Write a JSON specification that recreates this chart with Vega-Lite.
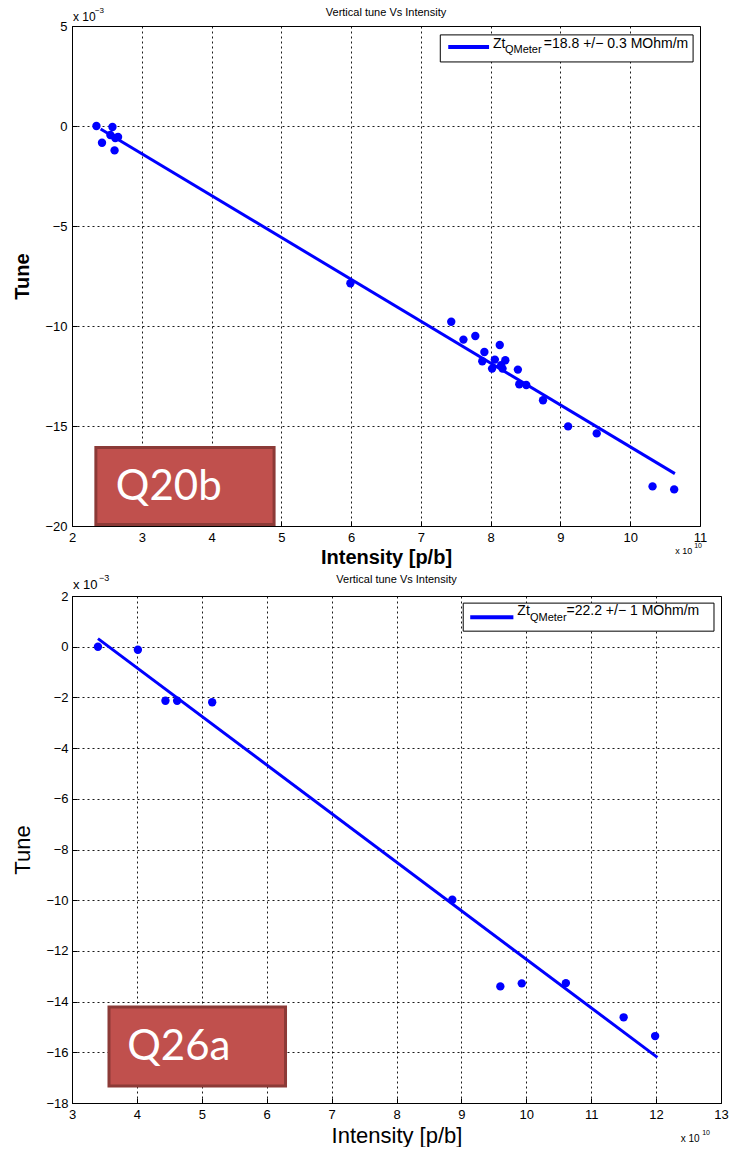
{
  "$schema": "https://vega.github.io/schema/vega-lite/v6.json",
  "padding": {"top": 6, "left": 11, "right": 0, "bottom": 0},
  "background": "#ffffff",
  "datasets": {
    "top_pts": [
      {"intensity": 2.35, "tune": 0.0},
      {"intensity": 2.58, "tune": -0.05},
      {"intensity": 2.43, "tune": -0.84},
      {"intensity": 2.55, "tune": -0.45},
      {"intensity": 2.62, "tune": -0.6},
      {"intensity": 2.66, "tune": -0.55},
      {"intensity": 2.61, "tune": -1.22},
      {"intensity": 5.99, "tune": -7.86},
      {"intensity": 7.435, "tune": -9.79},
      {"intensity": 7.61, "tune": -10.68},
      {"intensity": 7.78, "tune": -10.5},
      {"intensity": 8.13, "tune": -10.95},
      {"intensity": 7.91, "tune": -11.3},
      {"intensity": 7.88, "tune": -11.76},
      {"intensity": 8.02, "tune": -12.13},
      {"intensity": 8.06, "tune": -11.68},
      {"intensity": 8.15, "tune": -11.96},
      {"intensity": 8.21, "tune": -11.71},
      {"intensity": 8.17, "tune": -12.13},
      {"intensity": 8.39, "tune": -12.18},
      {"intensity": 8.41, "tune": -12.91},
      {"intensity": 8.51, "tune": -12.95},
      {"intensity": 8.75, "tune": -13.71},
      {"intensity": 9.11, "tune": -15.02},
      {"intensity": 9.52, "tune": -15.37},
      {"intensity": 10.32, "tune": -18.02},
      {"intensity": 10.63, "tune": -18.17}
    ],
    "top_fit": [
      {"intensity": 2.41, "tune": -0.15},
      {"intensity": 10.64, "tune": -17.38}
    ],
    "bot_pts": [
      {"intensity": 3.4, "tune": 0.0},
      {"intensity": 4.015, "tune": -0.12},
      {"intensity": 4.44, "tune": -2.13},
      {"intensity": 4.62, "tune": -2.13},
      {"intensity": 5.16, "tune": -2.19},
      {"intensity": 8.86, "tune": -9.98},
      {"intensity": 9.6, "tune": -13.4},
      {"intensity": 9.93, "tune": -13.28},
      {"intensity": 10.61, "tune": -13.27},
      {"intensity": 11.5, "tune": -14.62},
      {"intensity": 11.985, "tune": -15.36}
    ],
    "bot_fit": [
      {"intensity": 3.4, "tune": 0.32},
      {"intensity": 12.02, "tune": -16.2}
    ]
  },
  "concat": [
    {
      "width": 628,
      "height": 500,
      "title": {"text": "Vertical tune Vs Intensity", "fontSize": 11, "fontWeight": "normal", "offset": 8, "dy": 19, "color": "#000", "anchor": "middle"},
      "layer": [
        {
          "data": {"name": "top_pts"},
          "mark": {"type": "circle", "size": 64, "color": "#0000ff", "opacity": 0},
          "encoding": {
            "x": {"field": "intensity", "type": "quantitative", "scale": {"domain": [2, 11], "nice": false, "zero": false},
                  "axis": {"values": [2,3,4,5,6,7,8,9,10,11], "format": "d", "title": "Intensity [p/b]", "titleFontSize": 20, "titleFontWeight": "bold", "titlePadding": 3, "labelFontSize": 13, "labelPadding": 10, "labelFlush": false, "labelOverlap": false, "grid": true, "gridColor": "#000", "gridDash": [2, 3], "gridOpacity": 0.9, "domain": false, "ticks": true, "tickSize": -5, "tickColor": "#000"}},
            "y": {"field": "tune", "type": "quantitative", "scale": {"domain": [-20, 5], "nice": false, "zero": false},
                  "axis": {"values": [-20,-15,-10,-5,0,5], "format": "d", "title": "Tune", "titleFontSize": 20, "titleFontWeight": "bold", "titlePadding": 12, "labelFontSize": 13, "labelPadding": 10, "labelOverlap": false, "grid": true, "gridColor": "#000", "gridDash": [2, 3], "gridOpacity": 0.9, "domain": false, "ticks": true, "tickSize": -5, "tickColor": "#000"}}
          }
        },
        {
          "data": {"values": [{}]},
          "mark": {"type": "rect", "fill": "#ffffff", "stroke": "#000", "strokeWidth": 1},
          "encoding": {
            "x": {"datum": 7.278, "type": "quantitative"},
            "x2": {"datum": 10.901},
            "y": {"datum": 4.555, "type": "quantitative"},
            "y2": {"datum": 3.203}
          }
        },
        {
          "data": {"values": [{}]},
          "mark": {"type": "rect", "fill": "#c0504d", "stroke": "#8c3a37", "strokeWidth": 3},
          "encoding": {
            "x": {"datum": 2.342, "type": "quantitative"},
            "x2": {"datum": 4.896},
            "y": {"datum": -16.07, "type": "quantitative"},
            "y2": {"datum": -19.92}
          }
        },
        {
          "data": {"name": "top_fit"},
          "mark": {"type": "line", "color": "#0000ff", "strokeWidth": 3},
          "encoding": {
            "x": {"field": "intensity", "type": "quantitative"},
            "y": {"field": "tune", "type": "quantitative"}
          }
        },
        {
          "data": {"name": "top_pts"},
          "mark": {"type": "circle", "size": 70, "color": "#0000ff", "opacity": 1},
          "encoding": {
            "x": {"field": "intensity", "type": "quantitative"},
            "y": {"field": "tune", "type": "quantitative"}
          }
        },
        {
          "data": {"values": [{}]},
          "mark": {"type": "rule", "color": "#0000ff", "strokeWidth": 4},
          "encoding": {
            "x": {"datum": 7.392, "type": "quantitative"},
            "x2": {"datum": 7.977},
            "y": {"datum": 3.954, "type": "quantitative"}
          }
        },
        {
          "data": {"values": [{}]},
          "mark": {"type": "text", "text": "Zt", "fontSize": 14, "align": "left", "baseline": "middle", "color": "#000"},
          "encoding": {
            "x": {"datum": 8.034, "type": "quantitative"},
            "y": {"datum": 4.104, "type": "quantitative"}
          }
        },
        {
          "data": {"values": [{}]},
          "mark": {"type": "text", "text": "QMeter", "fontSize": 11, "align": "left", "baseline": "middle", "color": "#000"},
          "encoding": {
            "x": {"datum": 8.205, "type": "quantitative"},
            "y": {"datum": 3.804, "type": "quantitative"}
          }
        },
        {
          "data": {"values": [{}]},
          "mark": {"type": "text", "text": "=18.8 +/− 0.3 MOhm/m", "fontSize": 14, "align": "left", "baseline": "middle", "color": "#000"},
          "encoding": {
            "x": {"datum": 8.762, "type": "quantitative"},
            "y": {"datum": 4.104, "type": "quantitative"}
          }
        },
        {
          "data": {"values": [{}]},
          "mark": {"type": "text", "text": "Q20b", "font": "Lato", "fontSize": 42, "align": "left", "baseline": "middle", "color": "#ffffff"},
          "encoding": {
            "x": {"datum": 2.628, "type": "quantitative"},
            "y": {"datum": -18.07, "type": "quantitative"}
          }
        },
        {
          "data": {"values": [{}]},
          "mark": {"type": "text", "text": "x 10", "fontSize": 12, "align": "left", "baseline": "middle", "color": "#000"},
          "encoding": {
            "x": {"datum": 2.014, "type": "quantitative"},
            "y": {"datum": 5.455, "type": "quantitative"}
          }
        },
        {
          "data": {"values": [{}]},
          "mark": {"type": "text", "text": "−3", "fontSize": 8, "align": "left", "baseline": "middle", "color": "#000"},
          "encoding": {
            "x": {"datum": 2.328, "type": "quantitative"},
            "y": {"datum": 5.756, "type": "quantitative"}
          }
        },
        {
          "data": {"values": [{}]},
          "mark": {"type": "text", "text": "x 10", "fontSize": 9, "align": "left", "baseline": "middle", "color": "#000"},
          "encoding": {
            "x": {"datum": 10.645, "type": "quantitative"},
            "y": {"datum": -21.27, "type": "quantitative"}
          }
        },
        {
          "data": {"values": [{}]},
          "mark": {"type": "text", "text": "10", "fontSize": 7, "align": "left", "baseline": "middle", "color": "#000"},
          "encoding": {
            "x": {"datum": 10.916, "type": "quantitative"},
            "y": {"datum": -21.02, "type": "quantitative"}
          }
        }
      ]
    },
    {
      "width": 649,
      "height": 507,
      "title": {"text": "Vertical tune Vs Intensity", "fontSize": 11, "fontWeight": "normal", "offset": 11, "dy": 22, "color": "#000", "anchor": "middle"},
      "layer": [
        {
          "data": {"name": "bot_pts"},
          "mark": {"type": "circle", "size": 64, "color": "#0000ff", "opacity": 0},
          "encoding": {
            "x": {"field": "intensity", "type": "quantitative", "scale": {"domain": [3, 13], "nice": false, "zero": false},
                  "axis": {"values": [3,4,5,6,7,8,9,10,11,12,13], "format": "d", "title": "Intensity [p/b]", "titleFontSize": 22, "titleFontWeight": "normal", "titlePadding": 4, "labelFontSize": 13, "labelPadding": 10, "labelFlush": false, "labelOverlap": false, "grid": true, "gridColor": "#000", "gridDash": [2, 3], "gridOpacity": 0.9, "domain": false, "ticks": true, "tickSize": -5, "tickColor": "#000"}},
            "y": {"field": "tune", "type": "quantitative", "scale": {"domain": [-18, 2], "nice": false, "zero": false},
                  "axis": {"values": [-18,-16,-14,-12,-10,-8,-6,-4,-2,0,2], "format": "d", "title": "Tune", "titleFontSize": 22, "titleFontWeight": "normal", "titlePadding": 11, "labelFontSize": 13, "labelPadding": 9, "labelOverlap": false, "grid": true, "gridColor": "#000", "gridDash": [2, 3], "gridOpacity": 0.9, "domain": false, "ticks": true, "tickSize": -5, "tickColor": "#000"}}
          }
        },
        {
          "data": {"values": [{}]},
          "mark": {"type": "rect", "fill": "#ffffff", "stroke": "#000", "strokeWidth": 1},
          "encoding": {
            "x": {"datum": 9.028, "type": "quantitative"},
            "x2": {"datum": 12.892},
            "y": {"datum": 1.719, "type": "quantitative"},
            "y2": {"datum": 0.613}
          }
        },
        {
          "data": {"values": [{}]},
          "mark": {"type": "rect", "fill": "#c0504d", "stroke": "#8c3a37", "strokeWidth": 3},
          "encoding": {
            "x": {"datum": 3.57, "type": "quantitative"},
            "x2": {"datum": 6.29},
            "y": {"datum": -14.21, "type": "quantitative"},
            "y2": {"datum": -17.33}
          }
        },
        {
          "data": {"name": "bot_fit"},
          "mark": {"type": "line", "color": "#0000ff", "strokeWidth": 3},
          "encoding": {
            "x": {"field": "intensity", "type": "quantitative"},
            "y": {"field": "tune", "type": "quantitative"}
          }
        },
        {
          "data": {"name": "bot_pts"},
          "mark": {"type": "circle", "size": 70, "color": "#0000ff", "opacity": 1},
          "encoding": {
            "x": {"field": "intensity", "type": "quantitative"},
            "y": {"field": "tune", "type": "quantitative"}
          }
        },
        {
          "data": {"values": [{}]},
          "mark": {"type": "rule", "color": "#0000ff", "strokeWidth": 4},
          "encoding": {
            "x": {"datum": 9.136, "type": "quantitative"},
            "x2": {"datum": 9.801},
            "y": {"datum": 1.166, "type": "quantitative"}
          }
        },
        {
          "data": {"values": [{}]},
          "mark": {"type": "text", "text": "Zt", "fontSize": 14, "align": "left", "baseline": "middle", "color": "#000"},
          "encoding": {
            "x": {"datum": 9.862, "type": "quantitative"},
            "y": {"datum": 1.403, "type": "quantitative"}
          }
        },
        {
          "data": {"values": [{}]},
          "mark": {"type": "text", "text": "QMeter", "fontSize": 11, "align": "left", "baseline": "middle", "color": "#000"},
          "encoding": {
            "x": {"datum": 10.056, "type": "quantitative"},
            "y": {"datum": 1.126, "type": "quantitative"}
          }
        },
        {
          "data": {"values": [{}]},
          "mark": {"type": "text", "text": "=22.2 +/− 1 MOhm/m", "fontSize": 14, "align": "left", "baseline": "middle", "color": "#000"},
          "encoding": {
            "x": {"datum": 10.62, "type": "quantitative"},
            "y": {"datum": 1.403, "type": "quantitative"}
          }
        },
        {
          "data": {"values": [{}]},
          "mark": {"type": "text", "text": "Q26a", "font": "Lato", "fontSize": 42, "align": "left", "baseline": "middle", "color": "#ffffff"},
          "encoding": {
            "x": {"datum": 3.85, "type": "quantitative"},
            "y": {"datum": -15.79, "type": "quantitative"}
          }
        },
        {
          "data": {"values": [{}]},
          "mark": {"type": "text", "text": "x 10", "fontSize": 13, "align": "left", "baseline": "middle", "color": "#000"},
          "encoding": {
            "x": {"datum": 3.015, "type": "quantitative"},
            "y": {"datum": 2.431, "type": "quantitative"}
          }
        },
        {
          "data": {"values": [{}]},
          "mark": {"type": "text", "text": "−3", "fontSize": 9, "align": "left", "baseline": "middle", "color": "#000"},
          "encoding": {
            "x": {"datum": 3.417, "type": "quantitative"},
            "y": {"datum": 2.708, "type": "quantitative"}
          }
        },
        {
          "data": {"values": [{}]},
          "mark": {"type": "text", "text": "x 10", "fontSize": 10, "align": "left", "baseline": "middle", "color": "#000"},
          "encoding": {
            "x": {"datum": 12.38, "type": "quantitative"},
            "y": {"datum": -19.43, "type": "quantitative"}
          }
        },
        {
          "data": {"values": [{}]},
          "mark": {"type": "text", "text": "10", "fontSize": 7, "align": "left", "baseline": "middle", "color": "#000"},
          "encoding": {
            "x": {"datum": 12.71, "type": "quantitative"},
            "y": {"datum": -19.19, "type": "quantitative"}
          }
        }
      ]
    }
  ],
  "columns": 1,
  "align": "none",
  "spacing": 5,
  "config": {
    "font": "Liberation Sans",
    "view": {"stroke": "#000", "strokeWidth": 1},
    "axis": {"labelColor": "#000", "titleColor": "#000"}
  }
}
